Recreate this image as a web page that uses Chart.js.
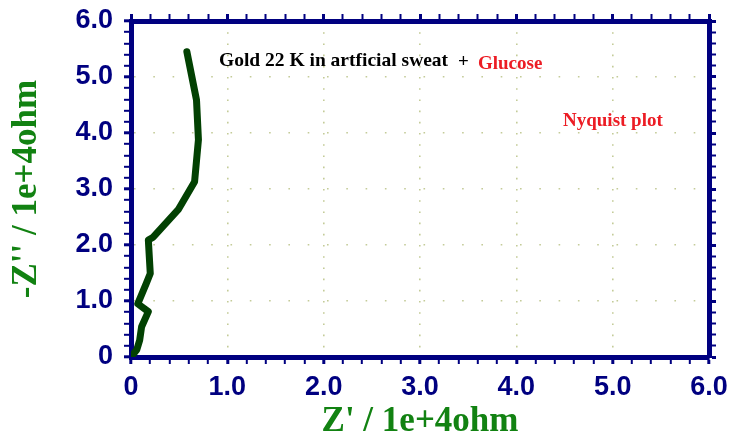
<!DOCTYPE html>
<html>
<head>
<meta charset="utf-8">
<script src="https://cdn.jsdelivr.net/npm/chart.js@4/dist/chart.umd.min.js"></script>
<style>
  html, body { margin: 0; padding: 0; background: #ffffff; }
  #wrap { width: 731px; height: 439px; }
</style>
</head>
<body>
<div id="wrap"><canvas id="c" width="731" height="439"></canvas></div>
<script>
// Impedance spectrum: real part (Z') vs negative imaginary part (-Z''), in units of 1e+4 ohm
const zReal = [0.00, 0.06, 0.09, 0.11, 0.18, 0.07, 0.16, 0.20, 0.18, 0.23, 0.49, 0.66, 0.70, 0.68, 0.58];
const zImag = [0.00, 0.13, 0.30, 0.54, 0.81, 0.95, 1.32, 1.49, 2.09, 2.14, 2.63, 3.13, 3.88, 4.59, 5.45];

const axisMin = 0;
const axisMax = 6;
const tickStep = 0.2;
const xTitle = "Z' / 1e+4ohm";
const yTitle = "-Z'' / 1e+4ohm";
const sampleText = 'Gold 22 K in artficial sweat';
const plusText = '+';
const mediumText = 'Glucose';
const plotName = 'Nyquist plot';

const NAVY = '#000080';
const GREEN = '#128212';
const RED = '#ec1c24';
const DOT = '#c4cb98';

const points = zReal.map((x, i) => ({ x: x, y: zImag[i] }));

const isMajor = v => Math.abs(v - Math.round(v)) < 1e-6;
const fmt = v => (Math.abs(v) < 1e-9 ? '0' : Math.round(v).toFixed(1));

const tickFont = { family: '"Liberation Sans", Arial, sans-serif', size: 27, weight: 'bold' };
const titleFont = { family: '"Liberation Serif", "Times New Roman", serif', size: 35, weight: 'bold', lineHeight: 1 };

const tickW = c => (c.tick && isMajor(c.tick.value) ? 3 : 2);

function dottedGrid() {
  return {
    color: c => (c.tick && isMajor(c.tick.value) ? DOT : 'rgba(0,0,0,0)'),
    lineWidth: 1.6,
    tickLength: 7,
    tickWidth: tickW,
    tickColor: NAVY,
    drawOnChartArea: true
  };
}

// Text notes placed in the upper part of the plot
const notesPlugin = {
  id: 'notes',
  afterDraw(chart) {
    const ctx = chart.ctx;
    ctx.save();
    ctx.textBaseline = 'alphabetic';
    ctx.textAlign = 'left';
    ctx.font = 'bold 19.5px "Liberation Serif", "Times New Roman", serif';
    ctx.fillStyle = '#000000';
    ctx.fillText(sampleText, 219, 66);
    ctx.font = 'bold 19px "Liberation Serif", "Times New Roman", serif';
    ctx.fillText(plusText, 458, 67);
    ctx.fillStyle = RED;
    ctx.fillText(mediumText, 478, 69);
    ctx.fillText(plotName, 563, 126);
    ctx.restore();
  }
};

new Chart(document.getElementById('c'), {
  type: 'scatter',
  data: {
    datasets: [{
      data: points,
      showLine: true,
      borderColor: '#024102',
      borderWidth: 7,
      borderCapStyle: 'round',
      borderJoinStyle: 'round',
      pointRadius: 0,
      pointHoverRadius: 0,
      tension: 0
    }]
  },
  options: {
    responsive: false,
    animation: false,
    events: [],
    layout: { padding: 0 },
    plugins: { legend: { display: false }, tooltip: { enabled: false } },
    scales: {
      x: {
        type: 'linear', position: 'bottom', min: axisMin, max: axisMax,
        afterFit: s => { s.height = 82; s.paddingLeft = 0; s.paddingRight = 0; },
        ticks: {
          stepSize: tickStep, autoSkip: false, maxRotation: 0,
          callback: v => (isMajor(v) ? fmt(v) : ''),
          color: NAVY, font: tickFont, padding: 7
        },
        grid: dottedGrid(),
        border: { display: true, color: NAVY, width: 5, dash: [1.6, 9.6] },
        title: { display: true, text: xTitle, color: GREEN, font: titleFont, padding: 0 }
      },
      y: {
        type: 'linear', position: 'left', min: axisMin, max: axisMax,
        afterFit: s => { s.width = 131; s.paddingTop = 0; s.paddingBottom = 0; },
        ticks: {
          stepSize: tickStep, autoSkip: false,
          callback: v => (isMajor(v) ? fmt(v) : ''),
          color: NAVY, font: tickFont, padding: 11
        },
        grid: dottedGrid(),
        border: { display: true, color: NAVY, width: 5, dash: [1.6, 17.7] },
        title: { display: true, text: yTitle, color: GREEN, font: titleFont, padding: { top: 9, bottom: 0 } }
      },
      x2: {
        type: 'linear', position: 'top', min: axisMin, max: axisMax,
        afterFit: s => { s.height = 21; s.paddingLeft = 0; s.paddingRight = 0; },
        ticks: { stepSize: tickStep, autoSkip: false, display: false },
        grid: { drawOnChartArea: false, tickLength: 7, tickColor: NAVY, tickWidth: tickW },
        border: { display: true, color: NAVY, width: 5 }
      },
      y2: {
        type: 'linear', position: 'right', min: axisMin, max: axisMax,
        afterFit: s => { s.width = 22; s.paddingTop = 0; s.paddingBottom = 0; },
        ticks: { stepSize: tickStep, autoSkip: false, display: false },
        grid: { drawOnChartArea: false, tickLength: 7, tickColor: NAVY, tickWidth: tickW },
        border: { display: true, color: NAVY, width: 5 }
      }
    }
  },
  plugins: [notesPlugin]
});
</script>
</body>
</html>
